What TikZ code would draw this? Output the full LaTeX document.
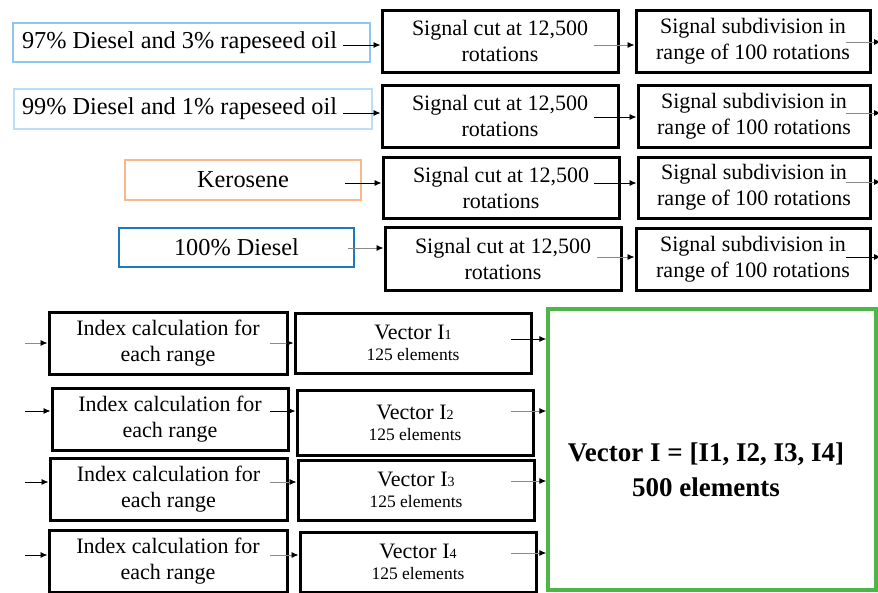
\documentclass[tikz,border=0pt]{standalone}
\usepackage{fontspec}
\setmainfont{Liberation Serif}
\usetikzlibrary{arrows.meta}
\definecolor{blueA}{HTML}{8DC6EE}
\definecolor{blueB}{HTML}{B9DEF5}
\definecolor{orangeK}{HTML}{F7B88B}
\definecolor{blueD}{HTML}{1F77BD}
\definecolor{greenV}{HTML}{4DB647}
\definecolor{lineG}{HTML}{8A8A8A}
\begin{document}
\begin{tikzpicture}[x=1pt,y=-1pt,
  txt/.style={font=\fontsize{22}{26}\selectfont},
  blk/.style={draw=black,line width=3pt,rectangle,inner sep=0pt,align=center,txt},
  src/.style={line width=2.6pt,rectangle,inner sep=0pt,align=center,font=\fontsize{24.3}{28}\selectfont},
  arrk/.style={draw=black,line width=0.9pt,-{Latex[length=7pt,width=6pt,black]}},
  arrg/.style={draw=lineG,line width=0.9pt,-{Latex[length=7pt,width=6pt,black]}}
]
\useasboundingbox (0,0) rectangle (878,592);
\fill[white] (0,0) rectangle (878,592);

% source boxes
\node[src,draw=blueA,minimum width=357pt,minimum height=39pt,text width=339pt,align=flush left] (s1) at (191.5,42.5) {97\% Diesel and 3\% rapeseed oil};
\node[src,draw=blueB,minimum width=358pt,minimum height=40pt,text width=342pt,align=flush left] (s2) at (193,109) {99\% Diesel and 1\% rapeseed oil};
\node[src,draw=orangeK,minimum width=236pt,minimum height=40pt] (s3) at (243,180) {Kerosene};
\node[src,draw=blueD,minimum width=235pt,minimum height=39pt] (s4) at (236.5,247.5) {100\% Diesel};

% signal cut boxes
\node[blk,minimum width=236pt,minimum height=62pt] (c1) at (500,41) {Signal cut at 12,500\\rotations};
\node[blk,minimum width=236pt,minimum height=62pt] (c2) at (500,116) {Signal cut at 12,500\\rotations};
\node[blk,minimum width=236pt,minimum height=61pt] (c3) at (501,187.5) {Signal cut at 12,500\\rotations};
\node[blk,minimum width=236pt,minimum height=63pt] (c4) at (503,258.5) {Signal cut at 12,500\\rotations};

% subdivision boxes
\node[blk,minimum width=234pt,minimum height=62pt] (d1) at (753,41) {Signal subdivision in\\range of 100 rotations};
\node[blk,minimum width=232pt,minimum height=62pt] (d2) at (754,116) {Signal subdivision in\\range of 100 rotations};
\node[blk,minimum width=232pt,minimum height=61pt] (d3) at (754,187.5) {Signal subdivision in\\range of 100 rotations};
\node[blk,minimum width=234pt,minimum height=62pt] (d4) at (753,259) {Signal subdivision in\\range of 100 rotations};

% index boxes
\node[blk,minimum width=238pt,minimum height=62pt] (i1) at (168,343) {Index calculation for\\each range};
\node[blk,minimum width=236pt,minimum height=62pt] (i2) at (170,419) {Index calculation for\\each range};
\node[blk,minimum width=237pt,minimum height=62pt] (i3) at (168.5,489) {Index calculation for\\each range};
\node[blk,minimum width=238pt,minimum height=62pt] (i4) at (168,561) {Index calculation for\\each range};

% vector boxes
\node[blk,minimum width=236pt,minimum height=60pt] (v1) at (413,343) {Vector I{\fontsize{14}{14}\selectfont 1}\\[-5pt]{\fontsize{17.5}{20}\selectfont 125 elements}};
\node[blk,minimum width=236pt,minimum height=65pt] (v2) at (415,422.5) {Vector I{\fontsize{14}{14}\selectfont 2}\\[-5pt]{\fontsize{17.5}{20}\selectfont 125 elements}};
\node[blk,minimum width=236pt,minimum height=60pt] (v3) at (416,490) {Vector I{\fontsize{14}{14}\selectfont 3}\\[-5pt]{\fontsize{17.5}{20}\selectfont 125 elements}};
\node[blk,minimum width=236pt,minimum height=60pt] (v4) at (418,562) {Vector I{\fontsize{14}{14}\selectfont 4}\\[-5pt]{\fontsize{17.5}{20}\selectfont 125 elements}};

% green box
\node[draw=greenV,line width=3.4pt,rectangle,minimum width=328pt,minimum height=281pt,inner sep=0pt] (g) at (712,449.5) {};
\node[font=\fontsize{27}{35}\selectfont\bfseries,align=center] (gt) at (706,470) {Vector I = [I1, I2, I3, I4]\\500 elements};

% arrow start / end coordinates
\coordinate (a1) at (343,45);  \coordinate (a2) at (343,113);
\coordinate (a3) at (345,183); \coordinate (a4) at (348,248);
\coordinate (b1) at (594,45);  \coordinate (b2) at (594,117);
\coordinate (b3) at (594,183); \coordinate (b4) at (597,257);
\coordinate (e1) at (846,42);  \coordinate (e2) at (846,113);
\coordinate (e3) at (846,182); \coordinate (e4) at (846,257);
\coordinate (x1) at (881,42);  \coordinate (x2) at (881,113);
\coordinate (x3) at (881,182); \coordinate (x4) at (881,257);
\coordinate (f1) at (25,343);  \coordinate (f2) at (25,411);
\coordinate (f3) at (25,482);  \coordinate (f4) at (25,555);
\coordinate (h1) at (270,343); \coordinate (h2) at (270,411);
\coordinate (h3) at (270,482); \coordinate (h4) at (270,555);
\coordinate (k1) at (511,339); \coordinate (k2) at (511,411);
\coordinate (k3) at (511,481); \coordinate (k4) at (511,553);

\draw[arrk] (a1) -- (a1 -| c1.west);
\draw[arrk] (a2) -- (a2 -| c2.west);
\draw[arrk] (a3) -- (a3 -| c3.west);
\draw[arrg] (a4) -- (a4 -| c4.west);

\draw[arrg] (b1) -- (b1 -| d1.west);
\draw[arrk] (b2) -- (b2 -| d2.west);
\draw[arrk] (b3) -- (b3 -| d3.west);
\draw[arrg] (b4) -- (b4 -| d4.west);

\draw[arrg] (e1) -- (x1);
\draw[arrg] (e2) -- (x2);
\draw[arrg] (e3) -- (x3);
\draw[arrk] (e4) -- (x4);

\draw[arrg] (f1) -- (f1 -| i1.west);
\draw[arrk] (f2) -- (f2 -| i2.west);
\draw[arrk] (f3) -- (f3 -| i3.west);
\draw[arrk] (f4) -- (f4 -| i4.west);

\draw[arrg] (h1) -- (h1 -| v1.west);
\draw[arrk] (h2) -- (h2 -| v2.west);
\draw[arrg] (h3) -- (h3 -| v3.west);
\draw[arrg] (h4) -- (h4 -| v4.west);

\draw[arrk] (k1) -- (k1 -| g.west);
\draw[arrg] (k2) -- (k2 -| g.west);
\draw[arrg] (k3) -- (k3 -| g.west);
\draw[arrg] (k4) -- (k4 -| g.west);
\end{tikzpicture}
\end{document}
